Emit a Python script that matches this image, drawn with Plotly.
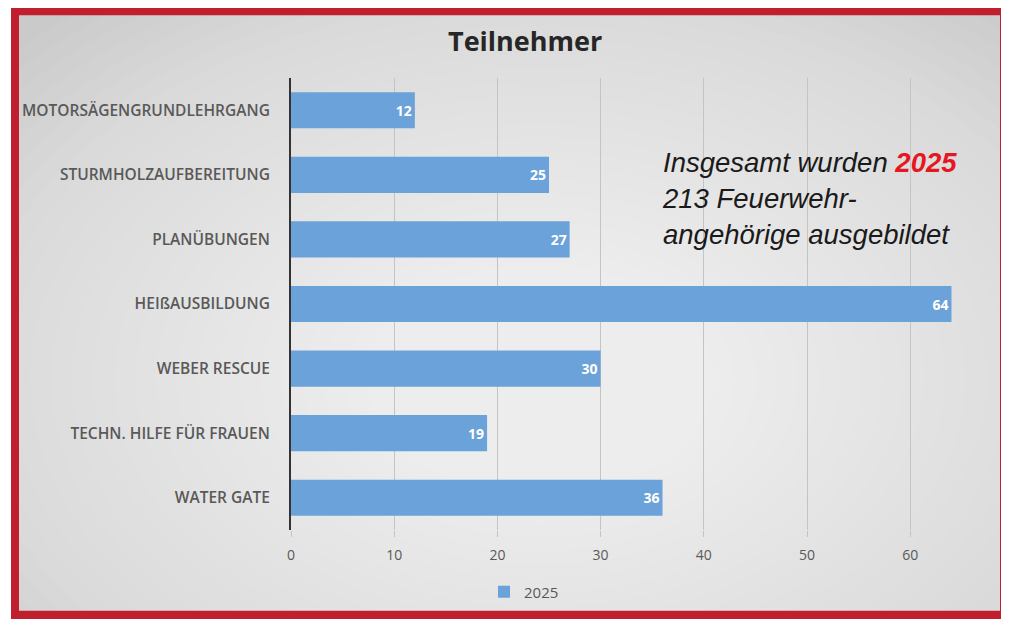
import plotly.graph_objects as go

categories = ["MOTORSÄGENGRUNDLEHRGANG", "STURMHOLZAUFBEREITUNG", "PLANÜBUNGEN",
              "HEIßAUSBILDUNG", "WEBER RESCUE", "TECHN. HILFE FÜR FRAUEN", "WATER GATE"]
values_2025 = [12, 25, 27, 64, 30, 19, 36]
series_name = "2025"
x_ticks = [0, 10, 20, 30, 40, 50, 60]

# page is offset by the 8px body margin of the html page
OFF = 8
W, H = 1009 - OFF, 619 - OFF
L, T = 291 - OFF, 78 - OFF
PW, PH = 681, 453
R = W - L - PW
B = H - T - PH


def px(xp):
    return (xp - OFF - L) / PW


def py(yp):
    return (T + PH - (yp - OFF)) / PH


def rect(x0, y0, x1, y1, color):
    return dict(type="rect", xref="paper", yref="paper", layer="below",
                x0=px(x0), x1=px(x1), y0=py(y0), y1=py(y1),
                fillcolor=color, line=dict(width=0))


fig = go.Figure()
fig.add_trace(go.Bar(
    y=categories, x=values_2025, orientation="h", name=series_name,
    marker=dict(color="#6aa2d9", line=dict(width=0)),
    text=values_2025, textposition="inside", insidetextanchor="end",
    textfont=dict(color="white", size=14, family="Open Sans", weight="bold"),
    cliponaxis=False,
))

shapes = []
# gray panel with soft radial light
shapes.append(rect(0, 0, 1020, 630, "#cacaca"))
cx, cy = 540, 380
n = 32
for i in range(n):
    rx = 720 - i * 21
    ry = 480 - i * 14
    shapes.append(dict(type="circle", xref="paper", yref="paper", layer="below",
                       x0=px(cx - rx), x1=px(cx + rx), y0=py(cy - ry), y1=py(cy + ry),
                       fillcolor="rgba(255,255,255,0.05)", line=dict(width=0)))
# white page margin on the left, red frame
shapes.append(rect(0, 0, 11, 630, "white"))
shapes.append(rect(11, 0, 1020, 15, "#c0202e"))
shapes.append(rect(11, 612, 1020, 630, "#c0202e"))
shapes.append(rect(11, 0, 19, 630, "#c0202e"))
shapes.append(rect(1000, 0, 1020, 630, "#c0202e"))

annotations = [
    dict(text="<b>Teilnehmer</b>", xref="paper", yref="paper", x=px(525), y=py(40),
         xanchor="center", yanchor="middle", showarrow=False,
         font=dict(family="Open Sans", size=27, color="#262626")),
    dict(text="<i>Insgesamt wurden <b><span style='color:#e5171f'>2025</span></b><br>"
              "213 Feuerwehr-<br>angehörige ausgebildet</i>",
         xref="paper", yref="paper", x=px(660), y=py(199),
         xanchor="left", yanchor="middle", align="left", showarrow=False,
         font=dict(family="Liberation Sans", size=27.5, color="#1a1a1a")),
]

fig.update_layout(
    width=W, height=H,
    margin=dict(l=L, r=R, t=T, b=B),
    paper_bgcolor="white", plot_bgcolor="rgba(0,0,0,0)",
    shapes=shapes, annotations=annotations,
    bargap=0.44,
    showlegend=True,
    legend=dict(orientation="h", x=px(524), y=py(592), xanchor="center", yanchor="middle",
                bgcolor="rgba(0,0,0,0)", font=dict(family="Open Sans", size=15, color="#595959"),
                itemwidth=30),
    xaxis=dict(range=[0, PW / 10.32], tickvals=x_ticks, showgrid=True, gridcolor="#c4c4c4",
               gridwidth=1, zeroline=False, showline=False,
               ticks="outside", ticklen=6, tickcolor="#c4c4c4", ticklabelstandoff=6,
               tickfont=dict(family="Open Sans", size=14, color="#595959")),
    yaxis=dict(autorange="reversed", showline=True, linecolor="#333333", linewidth=2,
               showgrid=False, ticks="", ticklabelstandoff=16,
               tickfont=dict(family="Open Sans", size=15.5, color="#595959", weight=600)),
)

fig.write_html("out.html")
